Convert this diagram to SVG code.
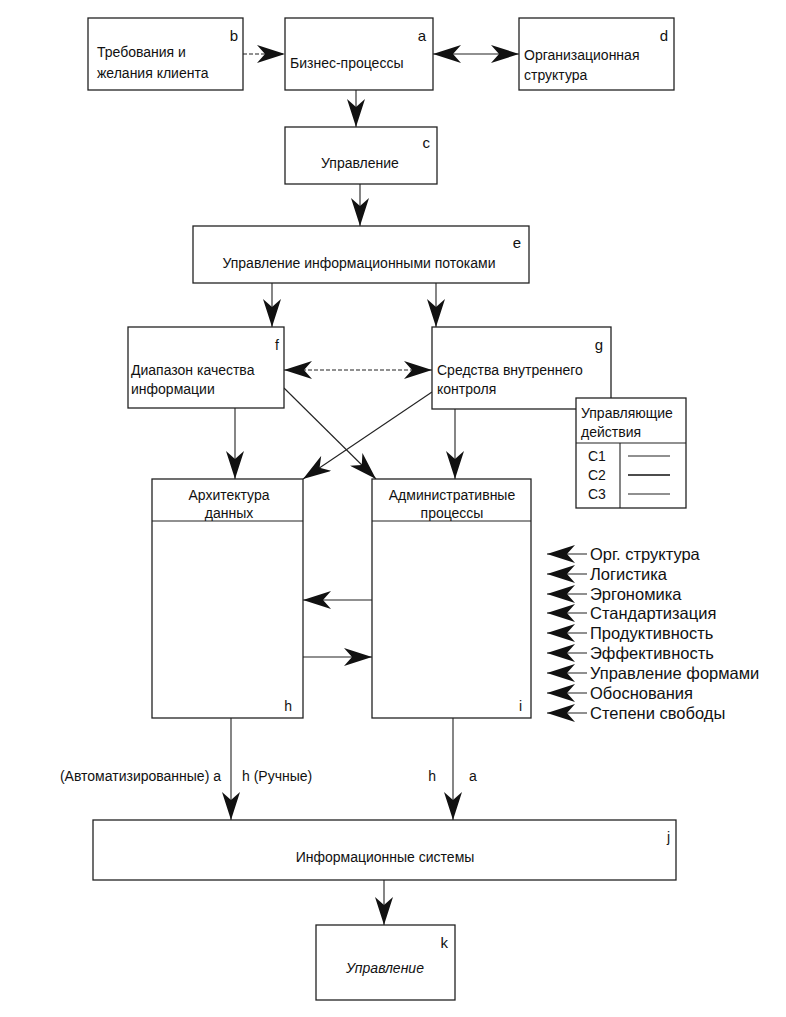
<svg xmlns="http://www.w3.org/2000/svg" width="786" height="1017" viewBox="0 0 786 1017">
<style>
.box{fill:#fff;stroke:#222;stroke-width:1.3}
.ln{fill:none;stroke:#222;stroke-width:1.1}
.dl{stroke-dasharray:4,2}
text{font-family:"Liberation Sans",Arial,sans-serif;font-size:14px;fill:#111}
.c{text-anchor:middle}
.r{text-anchor:end}
.big{font-size:15px}
.lst{font-size:16.5px}
</style>
<defs>
<marker id="ah" viewBox="0 0 28 18" refX="28" refY="9" markerWidth="28" markerHeight="18" markerUnits="userSpaceOnUse" orient="auto-start-reverse">
<path d="M0,0 L28,9 L0,18 L8,9 Z" fill="#111"/>
</marker>
</defs>
<rect width="786" height="1017" fill="#fff"/>
<g id="connectors">
<line class="ln dl" x1="243" y1="54" x2="285" y2="54" marker-end="url(#ah)"/>
<line class="ln" x1="433" y1="54" x2="519" y2="54" marker-start="url(#ah)" marker-end="url(#ah)"/>
<line class="ln" x1="356" y1="90" x2="356" y2="127" marker-end="url(#ah)"/>
<line class="ln" x1="360" y1="184" x2="360" y2="226" marker-end="url(#ah)"/>
<line class="ln" x1="272" y1="283" x2="272" y2="327" marker-end="url(#ah)"/>
<line class="ln" x1="436" y1="283" x2="436" y2="327" marker-end="url(#ah)"/>
<line class="ln dl" x1="284" y1="370" x2="432" y2="370" marker-start="url(#ah)" marker-end="url(#ah)"/>
<line class="ln" x1="235" y1="408" x2="235" y2="479" marker-end="url(#ah)"/>
<line class="ln" x1="284" y1="388" x2="376" y2="479" marker-end="url(#ah)"/>
<line class="ln" x1="432" y1="392" x2="303" y2="479" marker-end="url(#ah)"/>
<line class="ln" x1="455" y1="409" x2="455" y2="479" marker-end="url(#ah)"/>
<line class="ln" x1="372" y1="600" x2="303" y2="600" marker-end="url(#ah)"/>
<line class="ln" x1="303" y1="657" x2="372" y2="657" marker-end="url(#ah)"/>
<line class="ln" x1="231" y1="718" x2="231" y2="820" marker-end="url(#ah)"/>
<line class="ln" x1="453" y1="718" x2="453" y2="820" marker-end="url(#ah)"/>
<line class="ln" x1="384" y1="880" x2="384" y2="925" marker-end="url(#ah)"/>
<line class="ln" x1="587" y1="554" x2="547" y2="554" marker-end="url(#ah)"/>
<line class="ln" x1="587" y1="574" x2="547" y2="574" marker-end="url(#ah)"/>
<line class="ln" x1="587" y1="594" x2="547" y2="594" marker-end="url(#ah)"/>
<line class="ln" x1="587" y1="613" x2="547" y2="613" marker-end="url(#ah)"/>
<line class="ln" x1="587" y1="633" x2="547" y2="633" marker-end="url(#ah)"/>
<line class="ln" x1="587" y1="653" x2="547" y2="653" marker-end="url(#ah)"/>
<line class="ln" x1="587" y1="673" x2="547" y2="673" marker-end="url(#ah)"/>
<line class="ln" x1="587" y1="693" x2="547" y2="693" marker-end="url(#ah)"/>
<line class="ln" x1="587" y1="713" x2="547" y2="713" marker-end="url(#ah)"/>
</g>
<g id="node-b">
<rect class="box" x="88" y="18" width="155" height="72"/>
<text x="238" y="41" class="r big">b</text>
<text x="97" y="57">Требования и</text>
<text x="97" y="78">желания клиента</text>
</g>
<g id="node-a">
<rect class="box" x="285" y="18" width="148" height="72"/>
<text x="426" y="41" class="r big">a</text>
<text x="290" y="68">Бизнес-процессы</text>
</g>
<g id="node-d">
<rect class="box" x="519" y="18" width="155" height="72"/>
<text x="668" y="41" class="r big">d</text>
<text x="524" y="60">Организационная</text>
<text x="524" y="80">структура</text>
</g>
<g id="node-c">
<rect class="box" x="285" y="127" width="152" height="57"/>
<text x="430" y="148" class="r big">c</text>
<text x="360" y="168" class="c">Управление</text>
</g>
<g id="node-e">
<rect class="box" x="193" y="226" width="336" height="57"/>
<text x="521" y="248" class="r big">e</text>
<text x="359" y="268" class="c">Управление информационными потоками</text>
</g>
<g id="node-f">
<rect class="box" x="128" y="327" width="156" height="81"/>
<text x="279" y="350" class="r">f</text>
<text x="131" y="375">Диапазон качества</text>
<text x="131" y="394">информации</text>
</g>
<g id="node-g">
<rect class="box" x="432" y="327" width="179" height="82"/>
<text x="603" y="350" class="r big">g</text>
<text x="437" y="375">Средства внутреннего</text>
<text x="437" y="394">контроля</text>
</g>
<g id="node-table">
<rect class="box" x="576" y="398" width="110" height="110"/>
<line class="ln" x1="576" y1="443" x2="686" y2="443"/>
<line class="ln" x1="620" y1="443" x2="620" y2="508"/>
<text x="581" y="418">Управляющие</text>
<text x="581" y="437">действия</text>
<text x="588" y="461">C1</text>
<text x="588" y="480">C2</text>
<text x="588" y="499">C3</text>
<line class="ln" x1="628" y1="456" x2="670" y2="456"/>
<line x1="628" y1="475" x2="670" y2="475" stroke="#111" stroke-width="1.6"/>
<line class="ln" x1="628" y1="494" x2="670" y2="494"/>
</g>
<g id="node-h">
<rect class="box" x="152" y="479" width="151" height="239"/>
<line class="ln" x1="152" y1="521" x2="303" y2="521"/>
<text x="229" y="500" class="c">Архитектура</text>
<text x="229" y="518" class="c">данных</text>
<text x="292" y="711" class="r">h</text>
</g>
<g id="node-i">
<rect class="box" x="372" y="479" width="159" height="239"/>
<line class="ln" x1="372" y1="521" x2="531" y2="521"/>
<text x="452" y="500" class="c">Административные</text>
<text x="452" y="518" class="c">процессы</text>
<text x="522" y="711" class="r">i</text>
</g>
<g id="list">
<text x="590" y="560" class="lst">Орг. структура</text>
<text x="590" y="580" class="lst">Логистика</text>
<text x="590" y="600" class="lst">Эргономика</text>
<text x="590" y="619" class="lst">Стандартизация</text>
<text x="590" y="639" class="lst">Продуктивность</text>
<text x="590" y="659" class="lst">Эффективность</text>
<text x="590" y="679" class="lst">Управление формами</text>
<text x="590" y="699" class="lst">Обоснования</text>
<text x="590" y="719" class="lst">Степени свободы</text>
</g>
<g id="labels">
<text x="221" y="781" class="r">(Автоматизированные) а</text>
<text x="242" y="781">h (Ручные)</text>
<text x="436" y="781" class="r">h</text>
<text x="469" y="781">a</text>
</g>
<g id="node-j">
<rect class="box" x="93" y="820" width="583" height="60"/>
<text x="670" y="842" class="r">j</text>
<text x="385" y="862" class="c">Информационные системы</text>
</g>
<g id="node-k">
<rect class="box" x="316" y="925" width="139" height="75"/>
<text x="448" y="948" class="r big">k</text>
<text x="385" y="973" class="c" font-style="italic">Управление</text>
</g>
</svg>
